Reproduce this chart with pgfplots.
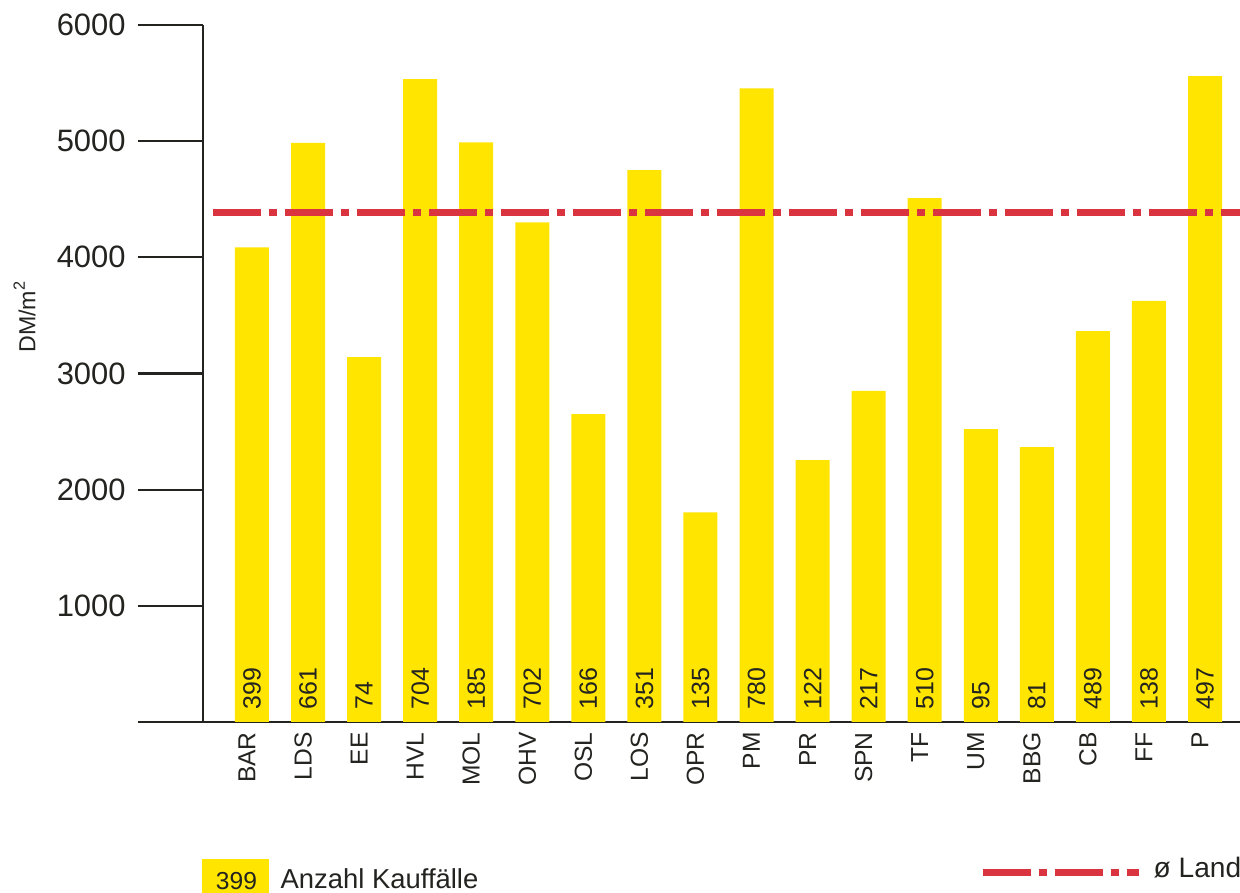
\documentclass[border=0pt]{standalone}
\usepackage{fontspec}
\setmainfont{Liberation Sans}
\usepackage{pgfplots}
\pgfplotsset{compat=1.18}
\usepackage{pgfplotstable}

\definecolor{baryellow}{RGB}{255,229,0}
\definecolor{landred}{RGB}{218,52,64}
\definecolor{ink}{RGB}{35,35,32}

% Kaufpreise je Kreis (DM/m^2) und Anzahl der Kauffaelle
\pgfplotstableread{
x  kreis  preis  faelle
0  BAR    4085   399
1  LDS    4985   661
2  EE     3140   74
3  HVL    5535   704
4  MOL    4990   185
5  OHV    4300   702
6  OSL    2650   166
7  LOS    4750   351
8  OPR    1805   135
9  PM     5455   780
10 PR     2255   122
11 SPN    2850   217
12 TF     4510   510
13 UM     2520   95
14 BBG    2365   81
15 CB     3365   489
16 FF     3625   138
17 P      5560   497
}\kauf

\tikzset{landdash/.style={landred, line width=0.07cm,
  dash pattern=on 0.48cm off 0.08cm on 0.08cm off 0.08cm}}

\begin{document}
\begin{tikzpicture}[x=1cm,y=1cm]
\path[use as bounding box] (-2.03,-1.71) rectangle (10.37,7.22);
\begin{axis}[
  scale only axis,
  width=10.37cm, height=6.97cm,
  xmin=-0.874, xmax=17.624,
  ymin=0, ymax=6000,
  axis x line*=bottom, axis y line*=left,
  axis line style={ink, line width=0.6pt},
  ytick={0,1000,...,6000},
  yticklabels={{},1000,2000,3000,4000,5000,6000},
  xtick={0,...,17},
  xticklabels from table={\kauf}{kreis},
  tick align=outside,
  major tick length=0.65cm,
  ytick style={ink, line width=0.6pt},
  xtick style={draw=none},
  yticklabel style={font=\fontsize{8.8}{10}\selectfont, text=ink},
  xticklabel style={font=\fontsize{7}{8}\selectfont, text=ink,
    xshift=-0.05cm, yshift=0.67cm, rotate=90, anchor=east},
  ylabel={DM/m\textsuperscript{2}},
  every axis y label/.style={at={(axis description cs:-0.172,0.582)},
    rotate=90, anchor=center, font=\fontsize{6.6}{8}\selectfont, text=ink},
  clip=false,
]
\addplot[ybar, bar width=0.34cm, fill=baryellow, draw=none]
  table[x=x, y=preis]{\kauf};
\addplot[draw=none, nodes near coords, point meta=explicit symbolic,
  nodes near coords style={rotate=90, anchor=west, inner xsep=0.12cm,
    inner ysep=0pt, font=\fontsize{7.1}{8}\selectfont, text=ink}]
  table[x=x, y expr=0, meta=faelle]{\kauf};
\addplot[landdash] coordinates {(-0.696,4390) (17.624,4390)};
\end{axis}
% Legende
\fill[baryellow] (-0.01,-1.71) rectangle (0.66,-1.37);
\node[anchor=base, inner sep=0pt, text=ink, font=\fontsize{7}{8}\selectfont]
  at (0.335,-1.68) {399};
\node[anchor=base west, inner sep=0pt, text=ink, font=\fontsize{7.8}{9}\selectfont]
  at (0.77,-1.67) {Anzahl Kauffälle};
\draw[landdash] (7.80,-1.51) -- (9.36,-1.51);
\node[anchor=base west, inner sep=0pt, text=ink, font=\fontsize{8}{9}\selectfont]
  at (9.50,-1.56) {ø Land};
\end{tikzpicture}
\end{document}
